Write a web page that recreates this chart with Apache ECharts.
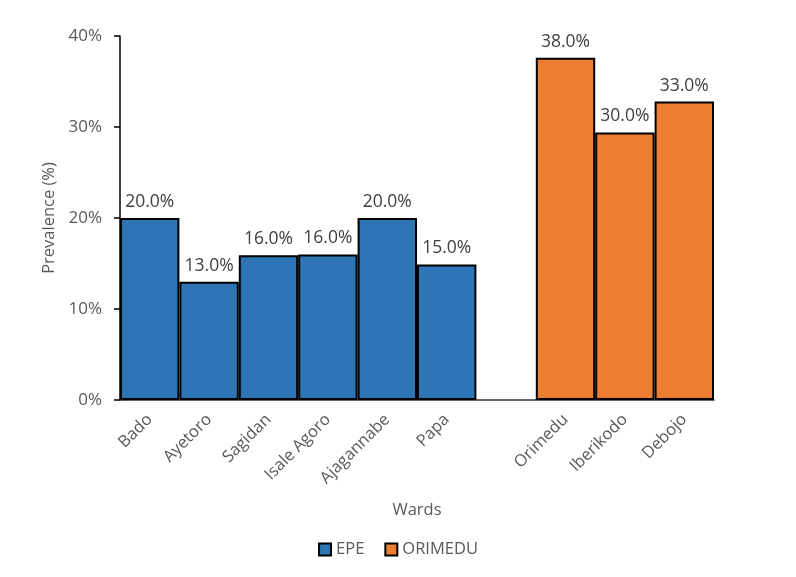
<!DOCTYPE html>
<html><head><meta charset="utf-8">
<script src="https://cdn.jsdelivr.net/npm/echarts@6/dist/echarts.min.js"></script>
<style>html,body{margin:0;padding:0;background:#fff}#c{width:796px;height:577px}</style>
</head><body><div id="c"></div>
<script>
var categories = ['Bado','Ayetoro','Sagidan','Isale Agoro','Ajagannabe','Papa','','Orimedu','Iberikodo','Debojo'];
var epeValues = [20.0,13.0,15.9,16.0,20.0,14.9,null,null,null,null];
var epeLabels = ['20.0%','13.0%','16.0%','16.0%','20.0%','15.0%','','','',''];
var orimeduValues = [null,null,null,null,null,null,null,37.6,29.4,32.8];
var orimeduLabels = ['','','','','','','','38.0%','30.0%','33.0%'];
var yTicks = [0,10,20,30,40];

var font = 'Open Sans';
var chart = echarts.init(document.getElementById('c'), null, {renderer:'canvas'});
function lbl(arr){
  return {show:true, position:'top', distance:7, color:'#404040', fontSize:17.5, fontFamily:font,
    formatter:function(p){return arr[p.dataIndex];}};
}
chart.setOption({
  animation:false,
  grid:{left:120, right:82, top:36, bottom:177, containLabel:false},
  legend:{bottom:14, left:'center', icon:'rect', itemWidth:12, itemHeight:12, itemGap:20,
    textStyle:{color:'#595959', fontSize:16.5, fontFamily:font},
    data:[{name:'EPE', itemStyle:{borderColor:'#000',borderWidth:2}},{name:'ORIMEDU', itemStyle:{borderColor:'#000',borderWidth:2}}]},
  xAxis:{type:'category', data:categories, name:'Wards', nameLocation:'middle', nameGap:102,
    nameTextStyle:{color:'#595959', fontSize:16.5, fontFamily:font},
    axisLine:{lineStyle:{color:'#333', width:1.5}}, axisTick:{show:false},
    axisLabel:{rotate:45, interval:0, margin:17, color:'#595959', fontSize:16.5, fontFamily:font}},
  yAxis:{type:'value', min:0, max:40, interval:10, name:'Prevalence (%)', nameLocation:'middle', nameGap:60,
    nameTextStyle:{color:'#595959', fontSize:16.5, fontFamily:font},
    splitLine:{show:false},
    axisLine:{show:true, lineStyle:{color:'#000', width:1.5}},
    axisTick:{show:true, length:6, lineStyle:{color:'#000', width:1.5}},
    axisLabel:{margin:18, color:'#595959', fontSize:17, fontFamily:font, formatter:function(v){return yTicks.indexOf(v)>=0? v+'%':'';}}},
  series:[
    {name:'EPE', type:'bar', stack:'s', barWidth:'100%', data:epeValues,
      itemStyle:{color:'#2E75B6', borderColor:'#000', borderWidth:2}, label:lbl(epeLabels)},
    {name:'ORIMEDU', type:'bar', stack:'s', barWidth:'100%', data:orimeduValues,
      itemStyle:{color:'#ED7D31', borderColor:'#000', borderWidth:2}, label:lbl(orimeduLabels)}
  ]
});
</script></body></html>
